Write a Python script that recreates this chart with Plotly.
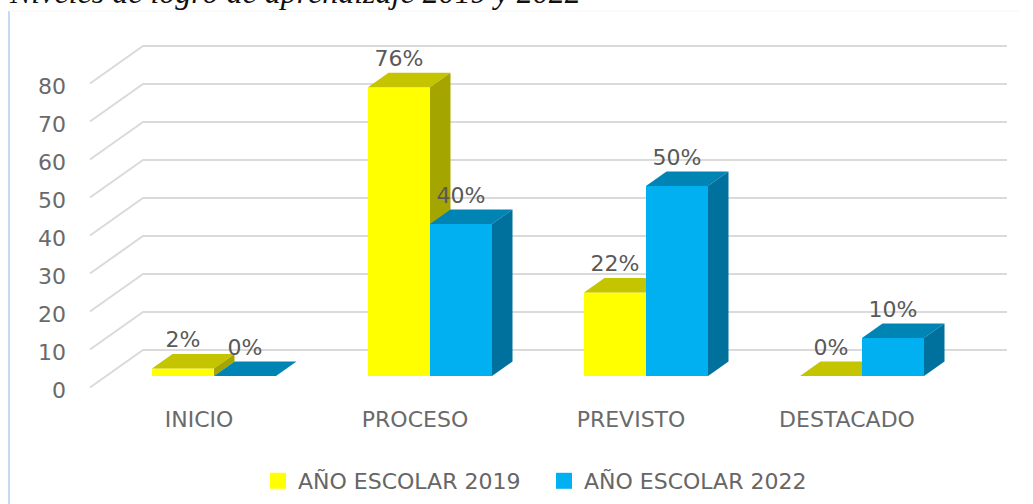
import plotly.graph_objects as go

categories = ["INICIO", "PROCESO", "PREVISTO", "DESTACADO"]
values_2019 = [2, 76, 22, 0]
values_2022 = [0, 40, 50, 10]
y_ticks = [0, 10, 20, 30, 40, 50, 60, 70, 80]
series_names = ["AÑO ESCOLAR 2019", "AÑO ESCOLAR 2022"]
title_text = "Niveles de logro de aprendizaje 2019 y 2022"

W, H = 1033, 504
ML, MB = 70, 104
PX_X0, PX_STEP = 214.0, 216.0      # pixel of category 0 / pixels per category
PX_PER_UNIT = 3.8
PLOT_BOTTOM = H - MB


def xpx(p):
    return (p - PX_X0) / PX_STEP


BAR_W = 62 / PX_STEP
DX = 20.5 / PX_STEP
DY = 14.5 / PX_PER_UNIT
YELLOW = ("#FFFF00", "#C4C400", "#A5A500")
BLUE = ("#00B0F0", "#0084B4", "#00709C")
GRID = "#DADADA"


def faces(values, start):
    tx, ty, sx, sy = [], [], [], []
    for i, v in enumerate(values):
        a = i + start
        b = a + BAR_W
        tx += [a, b, b + DX, a + DX, a, None]
        ty += [v, v, v + DY, v + DY, v, None]
        sx += [b, b, b + DX, b + DX, b, None]
        sy += [0, v, v + DY, DY, 0, None]
    return tx, ty, sx, sy


def poly(x, y, color, axis):
    return go.Scatter(x=x, y=y, mode="lines", fill="toself", fillcolor=color,
                      line=dict(width=0, color=color), yaxis=axis,
                      showlegend=False, hoverinfo="skip")


fig = go.Figure()

# wall grid lines: front edge -> back edge -> right end
AXIS_ZERO_PX = 390.0
WALL_ZERO_PX = 387.5
wall_lift = (AXIS_ZERO_PX - WALL_ZERO_PX) / PX_PER_UNIT
back_rise = 37.5 / PX_PER_UNIT
wx, wy = [], []
for t in y_ticks:
    wx += [xpx(90), xpx(143), xpx(1007), None]
    wy += [t + wall_lift, t + wall_lift + back_rise, t + wall_lift + back_rise, None]
fig.add_trace(go.Scatter(x=wx, y=wy, mode="lines", line=dict(color=GRID, width=2),
                         showlegend=False, hoverinfo="skip"))

xs = list(range(len(categories)))
for vals, cols, start, axis in [(values_2019, YELLOW, -BAR_W, "y2"),
                                (values_2022, BLUE, 0.0, "y3")]:
    fig.add_trace(go.Bar(x=xs, y=vals, width=BAR_W, offset=start,
                         marker=dict(color=cols[0], line=dict(width=0)),
                         yaxis=axis, showlegend=False, hoverinfo="skip"))
    tx, ty, sx, sy = faces(vals, start)
    fig.add_trace(poly(tx, ty, cols[1], axis))
    fig.add_trace(poly(sx, sy, cols[2], axis))

# data labels
lab_x, lab_y, lab_t = [], [], []
for i in xs:
    lab_x += [i - BAR_W / 2, i + BAR_W / 2]
    lab_y += [values_2019[i] + 4.2, values_2022[i] + 4.2]
    lab_t += [f"{values_2019[i]}%", f"{values_2022[i]}%"]
fig.add_trace(go.Scatter(x=lab_x, y=lab_y, text=lab_t, mode="text", yaxis="y3",
                         textposition="top center",
                         textfont=dict(family="DejaVu Sans", size=22, color="#595959"),
                         showlegend=False, hoverinfo="skip"))

# legend entries
for name, c in zip(series_names, (YELLOW[0], BLUE[0])):
    fig.add_trace(go.Scatter(x=[None], y=[None], mode="markers", name=name,
                             marker=dict(symbol="square", size=16, color=c)))

front_shift = 15 / PX_STEP


def yrange(zero_px):
    return [(zero_px - PLOT_BOTTOM) / PX_PER_UNIT, zero_px / PX_PER_UNIT]


def paper_x(p):
    return (p - ML) / (W - ML)


def paper_y(p):
    return (PLOT_BOTTOM - p) / PLOT_BOTTOM


fig.update_layout(
    width=W, height=H,
    margin=dict(l=ML, r=0, t=0, b=MB, pad=0),
    paper_bgcolor="white", plot_bgcolor="rgba(0,0,0,0)",
    barmode="overlay",
    xaxis=dict(range=[xpx(ML), xpx(W)], tickmode="array",
               tickvals=[i - front_shift for i in xs], ticktext=categories,
               showgrid=False, zeroline=False, showline=False, ticks="",
               ticklabelstandoff=4,
               tickfont=dict(family="DejaVu Sans", size=22, color="#6A6A6A")),
    yaxis=dict(range=yrange(AXIS_ZERO_PX), tickmode="array", tickvals=y_ticks,
               ticktext=[str(t) for t in y_ticks],
               showgrid=False, zeroline=False, showline=False, ticks="",
               ticklabelstandoff=3,
               tickfont=dict(family="DejaVu Sans", size=22, color="#6A6A6A")),
    yaxis2=dict(range=yrange(376), overlaying="y", visible=False),
    yaxis3=dict(range=yrange(376), overlaying="y", visible=False),
    showlegend=True,
    legend=dict(orientation="h", xref="container", yref="container",
                x=258 / W, y=1 - 481 / H, xanchor="left", yanchor="middle",
                entrywidth=241, entrywidthmode="pixels",
                font=dict(family="DejaVu Sans", size=22, color="#666666"),
                bgcolor="rgba(0,0,0,0)"),
    annotations=[dict(text=title_text, xref="paper", yref="paper",
                      x=paper_x(7), y=paper_y(12.5), xanchor="left", yanchor="bottom",
                      showarrow=False,
                      font=dict(family="Liberation Serif", size=32, style="italic",
                                color="#111111"))],
    shapes=[
        dict(type="line", xref="paper", yref="paper", x0=paper_x(9), x1=paper_x(9),
             y0=paper_y(11), y1=paper_y(H), line=dict(color="#C6DAF0", width=2)),
        dict(type="line", xref="paper", yref="paper", x0=paper_x(9), x1=paper_x(1020),
             y0=paper_y(11), y1=paper_y(11), line=dict(color="#F3F6FB", width=1)),
    ],
)

fig.write_html("out.html", config={"displayModeBar": False},
               post_script="document.body.style.margin='0';"
                           "document.documentElement.style.overflow='hidden';")
